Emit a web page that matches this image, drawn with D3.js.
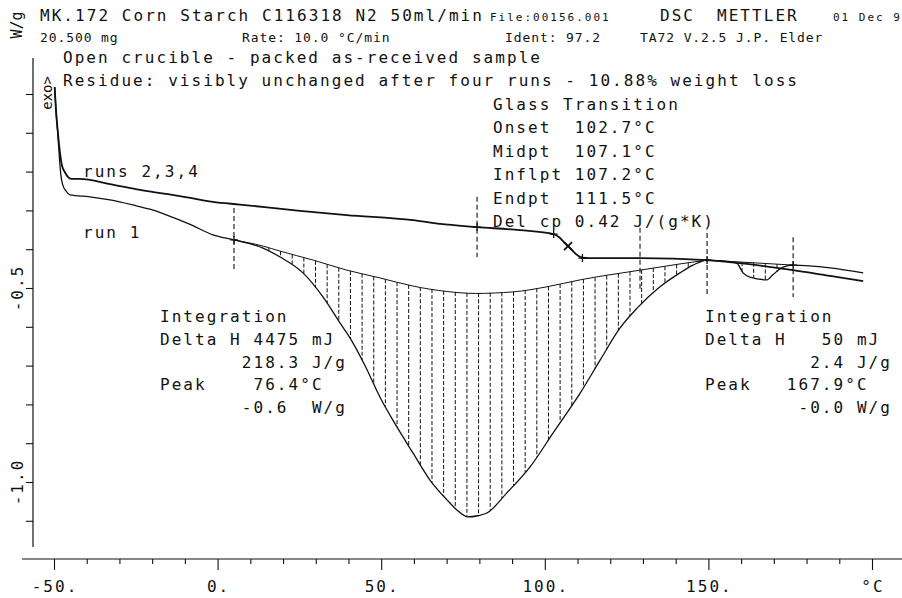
<!DOCTYPE html>
<html>
<head>
<meta charset="utf-8">
<script src="https://cdn.jsdelivr.net/npm/d3@7"></script>
<style>
  html, body { margin: 0; padding: 0; background: #fff; }
  svg { display: block; }
  text { font-family: "DejaVu Sans Mono", monospace; fill: #111; white-space: pre; }
  .big { font-size: 16px; letter-spacing: 2.05px; }
  .med { font-size: 13px; letter-spacing: 0.9px; }
  .small { font-size: 11px; letter-spacing: 2px; }
</style>
</head>
<body>
<svg id="chart" width="902" height="598"></svg>
<script>
// Heat flow traces: [temperature °C, heat flow W/g]
const runs234 = [
  [-49.8, 0.018], [-49.4, -0.041], [-48.8, -0.101], [-48.2, -0.149], [-47.6, -0.183],
  [-46.7, -0.201], [-45.7, -0.214], [-44.5, -0.219], [-42.1, -0.219], [-32.9, -0.232],
  [-23.7, -0.247], [-11.5, -0.263], [-1.4, -0.278], [6.8, -0.285], [15.1, -0.292],
  [25.2, -0.301], [39.5, -0.312], [59.7, -0.325], [68.0, -0.335], [79.3, -0.343],
  [92.4, -0.351], [102.7, -0.361], [104.5, -0.370], [106.0, -0.383], [107.1, -0.392],
  [108.5, -0.404], [110.2, -0.417], [111.5, -0.422], [113.5, -0.423], [129.1, -0.423],
  [149.6, -0.428], [159.7, -0.436], [175.9, -0.454], [187.2, -0.469], [197.3, -0.482]
];

const run1 = [
  [-49.8, 0.018], [-49.4, -0.041], [-48.8, -0.106], [-48.3, -0.170], [-47.9, -0.209],
  [-47.3, -0.235], [-46.3, -0.250], [-45.1, -0.260], [-39.0, -0.265], [-32.9, -0.273],
  [-25.9, -0.286], [-20.7, -0.297], [-15.5, -0.312], [-8.4, -0.336], [-1.4, -0.363],
  [5.0, -0.376], [13.9, -0.397], [19.1, -0.420], [26.1, -0.461], [32.2, -0.523],
  [37.4, -0.590], [40.5, -0.629], [45.0, -0.699], [49.6, -0.781], [54.8, -0.858],
  [59.7, -0.925], [64.9, -0.995], [70.1, -1.046], [73.5, -1.075], [76.4, -1.090],
  [79.5, -1.087], [82.3, -1.080], [88.4, -1.028], [95.5, -0.961], [102.5, -0.874],
  [110.8, -0.771], [116.9, -0.686], [123.0, -0.603], [128.2, -0.552], [135.2, -0.497],
  [141.3, -0.461], [145.3, -0.441], [149.6, -0.428], [153.5, -0.430], [157.5, -0.433],
  [158.7, -0.436], [160.6, -0.461], [162.7, -0.472], [167.9, -0.479], [169.7, -0.466],
  [172.8, -0.446], [175.9, -0.441], [187.2, -0.448], [197.3, -0.461]
];

// Integration baselines for the two run 1 peaks
const baseline1 = [
  [5.0, -0.376], [13.9, -0.392], [19.1, -0.405], [29.2, -0.428], [39.5, -0.454],
  [49.6, -0.474], [59.7, -0.495], [70.1, -0.509], [78.7, -0.514], [90.3, -0.510],
  [100.6, -0.497], [110.8, -0.479], [129.1, -0.454], [141.3, -0.438], [149.6, -0.428]
];
const baseline2 = [[149.6, -0.428], [175.9, -0.441]];

// Evaluation limits: temperature, top and bottom of the dashed marker (W/g)
const limits = [
  [5.0, -0.294, -0.454],
  [79.3, -0.265, -0.420],
  [129.1, -0.345, -0.510],
  [149.6, -0.358, -0.518],
  [175.9, -0.369, -0.523]
];

// Evaluation points on the curves
const plusMarks = [[5.0, -0.376], [79.3, -0.343], [102.7, -0.361], [111.5, -0.423], [149.6, -0.428], [175.9, -0.441]];
const crossMarks = [[107.1, -0.392]];

// Axis ticks
const xMajorTicks = [-50, 0, 50, 100, 150, 200];
const xTickLabels = ["-50.", "0.", "50.", "100.", "150.", "°C"];
const xMinorTicks = [-40, -30, -20, -10, 10, 20, 30, 40, 60, 70, 80, 90, 110, 120, 130, 140, 160, 170, 180, 190];
const yTicks = [0, -0.1, -0.2, -0.3, -0.4, -0.5, -0.6, -0.7, -0.8, -0.9, -1.0, -1.1];
const yLabelTicks = [-0.5, -1.0];
const yTickLabels = ["-0.5", "-1.0"];

// Text blocks: [text, x, y, style]
const headerLines = [
  ["MK.172 Corn Starch C116318 N2 50ml/min", 40, 21, "big"],
  ["File:00156.001", 490, 21, "small"],
  ["DSC", 660, 21, "big"],
  ["METTLER", 717, 21, "big"],
  ["01 Dec 9", 833, 21, "small"],
  ["20.500 mg", 40, 42, "med"],
  ["Rate: 10.0 °C/min", 242, 42, "med"],
  ["Ident: 97.2", 505, 42, "med"],
  ["TA72 V.2.5 J.P. Elder", 640, 42, "med"],
  ["Open crucible - packed as-received sample", 63, 63, "big"],
  ["Residue: visibly unchanged after four runs - 10.88% weight loss", 63, 86, "big"]
];
const glassLines = [
  "Glass Transition",
  "Onset  102.7°C",
  "Midpt  107.1°C",
  "Inflpt 107.2°C",
  "Endpt  111.5°C",
  "Del cp 0.42 J/(g*K)"
];
const integration1Lines = [
  "Integration",
  "Delta H 4475 mJ",
  "       218.3 J/g",
  "Peak    76.4°C",
  "       -0.6  W/g"
];
const integration2Lines = [
  "Integration",
  "Delta H   50 mJ",
  "         2.4 J/g",
  "Peak   167.9°C",
  "        -0.0 W/g"
];
const curveLabels = [["runs 2,3,4", 83, 177], ["run 1", 83, 238]];

// ---------------------------------------------------------------
const ink = "#111";
const svg = d3.select("#chart");
const x = d3.scaleLinear().domain([-50, 200]).range([54, 872]);
const y = d3.scaleLinear().domain([0, -1]).range([94, 482]);

const curve = d3.line().x(d => x(d[0])).y(d => y(d[1])).curve(d3.curveMonotoneX);

// linear lookup of a trace at temperature t
function valueAt(series, t) {
  const i = d3.bisector(d => d[0]).left(series, t);
  if (i <= 0) return series[0][1];
  if (i >= series.length) return series[series.length - 1][1];
  const a = series[i - 1], b = series[i];
  return a[1] + (b[1] - a[1]) * (t - a[0]) / (b[0] - a[0]);
}

// hatching between a baseline and the run 1 trace
const hatchStep = 3.56;
function hatch(base) {
  const t0 = base[0][0], t1 = base[base.length - 1][0];
  const g = svg.append("g").attr("stroke", ink).attr("stroke-width", 1).attr("stroke-dasharray", "4,2");
  d3.range(t0 + hatchStep, t1, hatchStep).forEach(t => {
    const yb = y(valueAt(base, t)), yr = y(valueAt(run1, t));
    if (Math.abs(yr - yb) < 1.5) return;
    g.append("line").attr("x1", x(t)).attr("x2", x(t)).attr("y1", yb).attr("y2", yr);
  });
}
hatch(baseline1);
hatch(baseline2);

// baselines
[baseline1, baseline2].forEach(b => {
  svg.append("path").datum(b).attr("d", curve).attr("fill", "none")
    .attr("stroke", ink).attr("stroke-width", 1);
});

// traces
svg.append("path").datum(run1).attr("d", curve).attr("fill", "none")
  .attr("stroke", ink).attr("stroke-width", 1.3).attr("stroke-linejoin", "round");
svg.append("path").datum(runs234).attr("d", curve).attr("fill", "none")
  .attr("stroke", ink).attr("stroke-width", 1.8).attr("stroke-linejoin", "round");

// dashed evaluation limits
svg.append("g").selectAll("line").data(limits).join("line")
  .attr("x1", d => x(d[0])).attr("x2", d => x(d[0]))
  .attr("y1", d => y(d[1])).attr("y2", d => y(d[2]))
  .attr("stroke", ink).attr("stroke-width", 1.1).attr("stroke-dasharray", "5,3");

// evaluation point marks
const m = 4;
svg.append("g").selectAll("path").data(plusMarks).join("path")
  .attr("d", d => `M${x(d[0]) - m},${y(d[1])}H${x(d[0]) + m}M${x(d[0])},${y(d[1]) - m}V${y(d[1]) + m}`)
  .attr("stroke", ink).attr("stroke-width", 1.3);
svg.append("g").selectAll("path").data(crossMarks).join("path")
  .attr("d", d => `M${x(d[0]) - m},${y(d[1]) - m}L${x(d[0]) + m},${y(d[1]) + m}M${x(d[0]) - m},${y(d[1]) + m}L${x(d[0]) + m},${y(d[1]) - m}`)
  .attr("stroke", ink).attr("stroke-width", 1.8);

// x axis
const xAxisY = 559;
svg.append("line").attr("x1", 22).attr("x2", 902).attr("y1", xAxisY).attr("y2", xAxisY)
  .attr("stroke", ink).attr("stroke-width", 1.2);
const gxMinor = svg.append("g").attr("transform", `translate(0,${xAxisY})`)
  .call(d3.axisBottom(x).tickValues(xMinorTicks).tickSize(5).tickFormat(""));
const gxMajor = svg.append("g").attr("transform", `translate(0,${xAxisY})`)
  .call(d3.axisBottom(x).tickValues(xMajorTicks).tickSize(11).tickFormat(""));
[gxMinor, gxMajor].forEach(g => {
  g.select(".domain").remove();
  g.selectAll(".tick line").attr("stroke", ink).attr("stroke-width", 1.1);
});
svg.append("g").selectAll("text").data(xMajorTicks).join("text")
  .attr("class", "big").attr("text-anchor", "middle")
  .attr("x", d => x(d) + 1).attr("y", 592)
  .text((d, i) => xTickLabels[i]);

// y axis
const yAxisX = 33;
svg.append("line").attr("x1", yAxisX).attr("x2", yAxisX).attr("y1", 58).attr("y2", 547)
  .attr("stroke", ink).attr("stroke-width", 1.2);
const gy = svg.append("g").attr("transform", `translate(${yAxisX},0)`)
  .call(d3.axisLeft(y).tickValues(yTicks).tickSize(7).tickFormat(""));
gy.select(".domain").remove();
gy.selectAll(".tick line").attr("stroke", ink).attr("stroke-width", 1.1);
svg.append("g").selectAll("text").data(yLabelTicks).join("text")
  .attr("class", "big").attr("text-anchor", "middle")
  .attr("transform", d => `translate(23,${y(d)}) rotate(-90)`)
  .text((d, i) => yTickLabels[i]);
svg.append("text").attr("text-anchor", "middle").attr("font-size", 15)
  .attr("transform", "translate(22,25) rotate(-90)").text("W/g");
svg.append("text").attr("text-anchor", "middle").attr("font-size", 14)
  .attr("transform", "translate(52,93) rotate(-90)").text("exo>");

// text blocks
svg.append("g").selectAll("text").data(headerLines).join("text")
  .attr("class", d => d[3]).attr("x", d => d[1]).attr("y", d => d[2]).text(d => d[0]);

function block(lines, x0, y0, step) {
  svg.append("g").selectAll("text").data(lines).join("text")
    .attr("class", "big").attr("x", x0).attr("y", (d, i) => y0 + i * step).text(d => d);
}
block(glassLines, 493, 110, 23.4);
block(integration1Lines, 160, 322, 22.8);
block(integration2Lines, 705, 322, 22.8);

svg.append("g").selectAll("text").data(curveLabels).join("text")
  .attr("class", "big").attr("x", d => d[1]).attr("y", d => d[2]).text(d => d[0]);
</script>
</body>
</html>
